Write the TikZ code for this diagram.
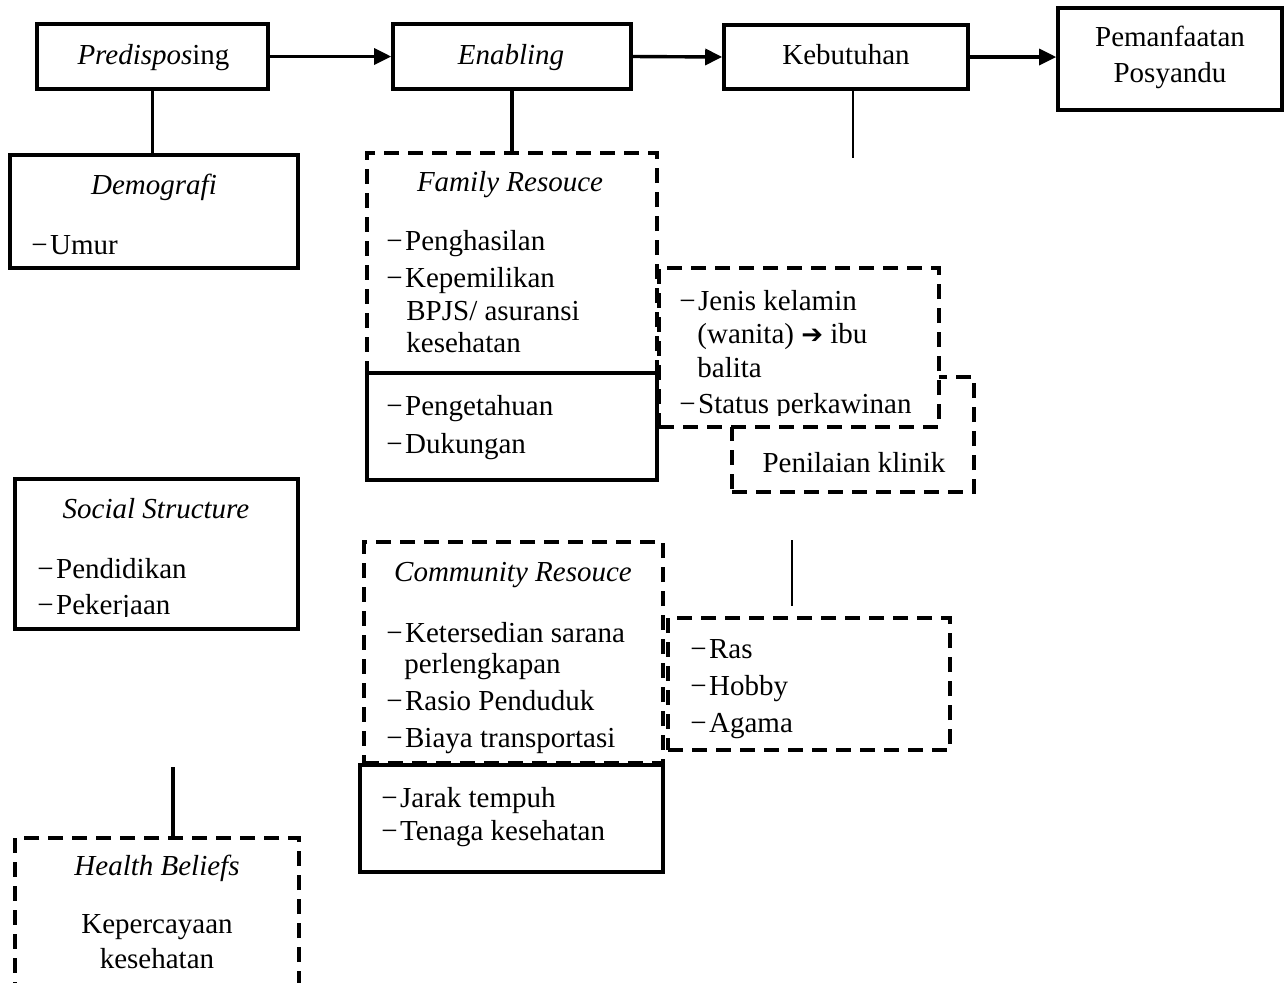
\documentclass[tikz,border=0pt]{standalone}
\usepackage{fontspec}
\setmainfont{Liberation Serif}
\newfontfamily\dejavu{DejaVu Sans}
\usetikzlibrary{arrows.meta}
\newcommand\lidash{−\kern1.2pt}
\begin{document}
\begin{tikzpicture}[x=0.5pt,y=-0.5pt,
  sz/.style 2 args={minimum width=#1*0.5pt, minimum height=#2*0.5pt},
  solidbox/.style={draw, line width=1.8pt, rectangle, inner sep=0pt},
  dashbox/.style={draw, line width=1.8pt, rectangle, inner sep=0pt, dash pattern=on 7.5pt off 4.5pt},
  txt/.style={inner sep=0pt, anchor=base west, font=\fontsize{14.5}{17}\selectfont},
  ttl/.style={inner sep=0pt, anchor=base, font=\fontsize{14.5}{17}\selectfont},
  conn/.style={line width=1.7pt},
  thin/.style={line width=1.4pt},
  arr/.style={line width=1.7pt, -{Triangle[length=8.5pt,width=8pt]}}
]
\path[use as bounding box, fill=white] (0,0) rectangle (1284,982);
\clip (0,0) rectangle (1284,982);

% boxes
\node[solidbox, sz={231}{65}] (pred) at (152.5,56.5) {};
\node[solidbox, sz={238}{65}] (enab) at (512,56.5) {};
\node[solidbox, sz={244}{64}] (keb) at (846,57) {};
\node[solidbox, sz={224}{102}] (pem) at (1170,59) {};
\node[solidbox, sz={288}{113}] (demo) at (154,211.5) {};
\node[dashbox, sz={242}{115}] (nilai) at (853,434.5) {};
\node[dashbox, fill=white, sz={280}{159}] (jenis) at (799,347.5) {};
\node[dashbox, sz={290}{220}] (fam) at (512,263) {};
\node[solidbox, sz={290}{107}] (tahu) at (512,426.5) {};
\node[solidbox, sz={283}{150}] (soc) at (156.5,554) {};
\node[dashbox, sz={299}{221}] (com) at (513.5,652.5) {};
\node[solidbox, sz={303}{107}] (jarak) at (511.5,818.5) {};
\node[dashbox, sz={282}{132}] (ras) at (809,684) {};
\node[dashbox, sz={284}{200}] (hb) at (157,938) {};

% texts
\node[ttl] (tpred) at (153.5,64) {\textit{Predispos}ing};
\node[ttl] (tenab) at (511,64) {\textit{Enabling}};
\node[ttl] (tkeb) at (846,64) {Kebutuhan};
\node[ttl] (tpem1) at (1170,46) {Pemanfaatan};
\node[ttl] (tpem2) at (1170,82) {Posyandu};
\node[ttl] (tdemo) at (154,194) {\textit{Demografi}};
\node[txt] (tumur) at (31,254) {\lidash Umur};
\node[ttl] (tfam) at (510,191) {\textit{Family Resouce}};
\node[txt] (tf1) at (386,250) {\lidash Penghasilan};
\node[txt] (tf2) at (386,287) {\lidash Kepemilikan};
\node[txt] (tf3) at (406,320) {BPJS/ asuransi};
\node[txt] (tf4) at (406,352) {kesehatan};
\node[txt] (tt1) at (386,415) {\lidash Pengetahuan};
\node[txt] (tt2) at (386,453) {\lidash Dukungan};
\begin{scope}
\clip (660,269) rectangle (938,415);
\node[txt] (tj1) at (679,310) {\lidash Jenis kelamin};
\node[txt] (tj2) at (697,343) {(wanita) {\dejavu\fontsize{13}{15}\selectfont ➔} ibu};
\node[txt] (tj3) at (697,377) {balita};
\node[txt] (tj4) at (679,413) {\lidash Status perkawinan};
\end{scope}
\node[ttl] (tnilai) at (854,472) {Penilaian klinik};
\node[ttl] (tsoc) at (156,518) {\textit{Social Structure}};
\node[txt] (ts1) at (37,578) {\lidash Pendidikan};
\begin{scope}
\clip (16,480) rectangle (297,616);
\node[txt] (ts2) at (37,614) {\lidash Pekerjaan};
\end{scope}
\node[ttl] (tcom) at (513,581) {\textit{Community Resouce}};
\node[txt] (tc1) at (386,642) {\lidash Ketersedian sarana};
\node[txt] (tc2) at (404,673) {perlengkapan};
\node[txt] (tc3) at (386,710) {\lidash Rasio Penduduk};
\node[txt] (tc4) at (386,747) {\lidash Biaya transportasi};
\node[txt] (tr1) at (381,807) {\lidash Jarak tempuh};
\node[txt] (tr2) at (381,840) {\lidash Tenaga kesehatan};
\node[txt] (ta1) at (690,658) {\lidash Ras};
\node[txt] (ta2) at (690,695) {\lidash Hobby};
\node[txt] (ta3) at (690,732) {\lidash Agama};
\node[ttl] (thb) at (157,875) {\textit{Health Beliefs}};
\node[ttl] (thb1) at (157,933) {Kepercayaan};
\node[ttl] (thb2) at (157,968) {kesehatan};

% connectors
\draw[arr] (pred.east) -- (enab.west);
\draw[arr] (enab.east) -- (keb.west);
\draw[arr] (keb.east) -- (keb.east -| pem.west);
\draw[conn] (pred.south) -- (pred.south |- demo.north);
\draw[conn] (enab.south) -- (enab.south |- fam.north);
\coordinate (kebend) at (853,158);
\draw[thin] (kebend |- keb.south) -- (kebend);
\coordinate (m1) at (792,540);
\coordinate (m2) at (792,606);
\draw[thin] (m1) -- (m2);
\coordinate (hbtop) at (173,767);
\draw[conn] (hbtop) -- (hbtop |- hb.north);
\end{tikzpicture}
\end{document}
